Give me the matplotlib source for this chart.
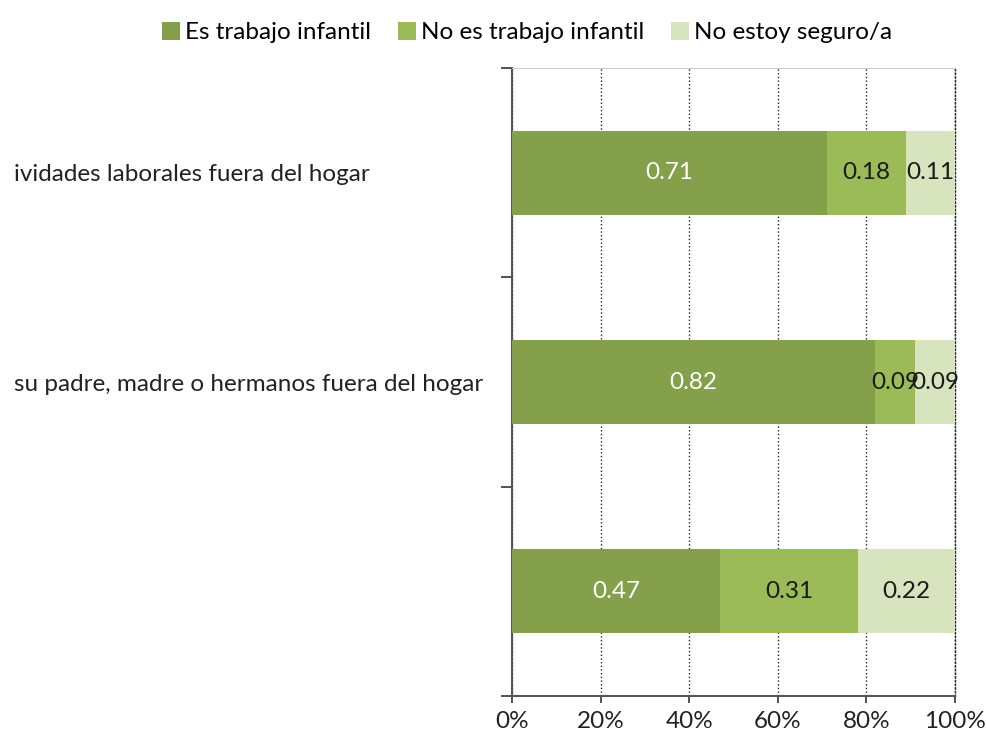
import matplotlib.pyplot as plt
import numpy as np

# DATA
categories = ['ividades laborales fuera del hogar',
              'su padre, madre o hermanos fuera del hogar',
              '']
series_names = ['Es trabajo infantil', 'No es trabajo infantil', 'No estoy seguro/a']
es_trabajo = [0.71, 0.82, 0.47]
no_es_trabajo = [0.18, 0.09, 0.31]
no_seguro = [0.11, 0.09, 0.22]
x_ticks = [0, 0.2, 0.4, 0.6, 0.8, 1.0]
x_tick_labels = ['0%', '20%', '40%', '60%', '80%', '100%']

colors = ['#84A04B', '#9BBB59', '#D7E4BD']
text_colors = ['white', '#1a1a1a', '#1a1a1a']

plt.rcParams['font.family'] = ['Lato', 'DejaVu Sans']
fs = 17.5

fig = plt.figure(figsize=(9.87, 7.38), dpi=100)
ax = fig.add_axes([512 / 987, 1 - 696 / 738, (955 - 512) / 987, (696 - 68) / 738])

y = np.arange(len(categories))
left = np.zeros(len(categories))
for name, vals, c, tc in zip(series_names, [es_trabajo, no_es_trabajo, no_seguro], colors, text_colors):
    bars = ax.barh(y, vals, left=left, height=0.4, color=c, label=name, zorder=3)
    for b, v in zip(bars, vals):
        ax.text(b.get_x() + b.get_width() / 2, b.get_y() + b.get_height() / 2,
                f'{v:.2f}', ha='center', va='center', color=tc, fontsize=fs, zorder=4)
    left += np.array(vals)

ax.set_xlim(0, 1)
ax.set_ylim(len(categories) - 0.5, -0.5)

ax.set_xticks(x_ticks)
ax.set_xticklabels(x_tick_labels, fontsize=fs, color='#222222')
ax.tick_params(axis='x', direction='out', length=5, width=1.2, color='#333333', pad=6)

ax.set_yticks(np.arange(len(categories) + 1) - 0.5)
ax.set_yticklabels([])
ax.set_yticks(y, minor=True)
ax.set_yticklabels(categories, minor=True, fontsize=fs, color='#222222', ha='left')
ax.tick_params(axis='y', which='major', direction='out', length=8, width=1.2, color='#333333')
ax.tick_params(axis='y', which='minor', length=0, pad=(512 - 14) * 72 / 100)

ax.grid(axis='x', linestyle=':', color='#222222', linewidth=1.0, zorder=0)

for s in ['left', 'bottom']:
    ax.spines[s].set_color('#555555')
    ax.spines[s].set_linewidth(1.5)
ax.spines['right'].set_linestyle(':')
ax.spines['right'].set_color('#222222')
ax.spines['right'].set_linewidth(1.0)
ax.spines['top'].set_color('#cccccc')
ax.spines['top'].set_linewidth(0.8)

fig.legend(loc='upper center', bbox_to_anchor=(527 / 987, 1.0), ncol=3, frameon=False,
           fontsize=fs, handlelength=0.75, handleheight=0.75, handletextpad=0.2,
           columnspacing=1.1)

fig.savefig('out.png', dpi=100)
